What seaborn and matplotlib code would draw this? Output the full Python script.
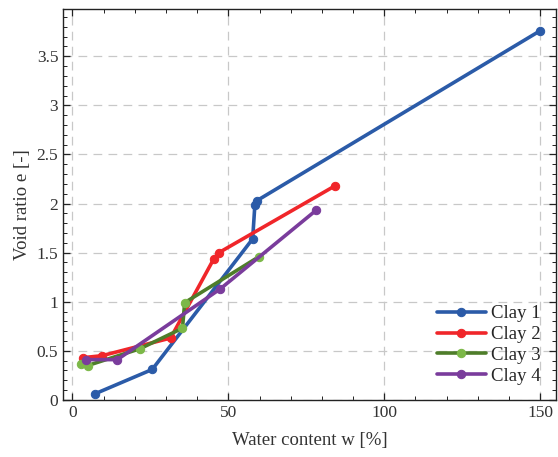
import numpy as np
import pandas as pd
import matplotlib
matplotlib.use("Agg")
import matplotlib.pyplot as plt
import seaborn as sns
from matplotlib.ticker import MultipleLocator

# data
clay1_w = [7.1, 25.6, 57.8, 58.5, 59.2, 150.0]
clay1_e = [0.06, 0.31, 1.64, 1.98, 2.03, 3.76]

clay2_w = [3.4, 9.5, 31.5, 45.4, 47.0, 84.2]
clay2_e = [0.43, 0.45, 0.63, 1.44, 1.50, 2.18]

clay3_w = [2.6, 4.9, 21.6, 35.3, 36.0, 59.9]
clay3_e = [0.37, 0.35, 0.52, 0.73, 0.99, 1.46]

clay4_w = [4.2, 14.4, 47.4, 78.1]
clay4_e = [0.41, 0.41, 1.13, 1.93]

names = ["Clay 1", "Clay 2", "Clay 3", "Clay 4"]
line_colors = ["#2b5ba8", "#f0262a", "#4e7d2a", "#7a3c9c"]
marker_colors = ["#2b5ba8", "#f0262a", "#7cb848", "#7a3c9c"]

series = [(clay1_w, clay1_e), (clay2_w, clay2_e),
          (clay3_w, clay3_e), (clay4_w, clay4_e)]

sns.set_style("ticks")
plt.rcParams["font.family"] = ["Liberation Serif", "DejaVu Serif"]

fig = plt.figure(figsize=(5.58, 4.57), dpi=100)
ax = fig.add_axes([0.113, 0.125, 0.883, 0.855])

for name, (w, e), lc, mc in zip(names, series, line_colors, marker_colors):
    df = pd.DataFrame({"w": w, "e": e})
    sns.lineplot(
        data=df, x="w", y="e", ax=ax, sort=False,
        color=lc, linewidth=2.6, marker="o", markersize=6,
        markerfacecolor=mc, markeredgecolor=mc, label=name,
    )

ax.set_xlim(-3, 155)
ax.set_ylim(0, 3.98)
ax.xaxis.set_major_locator(MultipleLocator(50))
ax.xaxis.set_minor_locator(MultipleLocator(10))
ax.yaxis.set_major_locator(MultipleLocator(0.5))
ax.yaxis.set_minor_locator(MultipleLocator(0.1))
ax.set_yticks(np.arange(0, 4.0, 0.5))
ax.set_yticklabels(["0", "0.5", "1", "1.5", "2", "2.5", "3", "3.5"])

ax.tick_params(which="both", direction="in", top=True, right=True,
               labelsize=12.5, colors="#222222", labelcolor="#333333")
ax.tick_params(which="major", length=5, width=0.9)
ax.tick_params(which="minor", length=3, width=0.7)
for s in ax.spines.values():
    s.set_linewidth(1.0)
    s.set_color("#222222")

ax.grid(True, which="major", linestyle=(0, (7, 5)), color="#c8c8c8", linewidth=0.9)

ax.set_xlabel("Water content w [%]", fontsize=13.5, color="#333333", labelpad=8)
ax.set_ylabel("Void ratio e [-]", fontsize=13.5, color="#333333", labelpad=4)

leg = ax.legend(loc="lower right", frameon=False, fontsize=13.5,
                handlelength=2.6, handletextpad=0.3, labelspacing=0.2,
                borderaxespad=0.4)

fig.savefig("out.png", dpi=100)
